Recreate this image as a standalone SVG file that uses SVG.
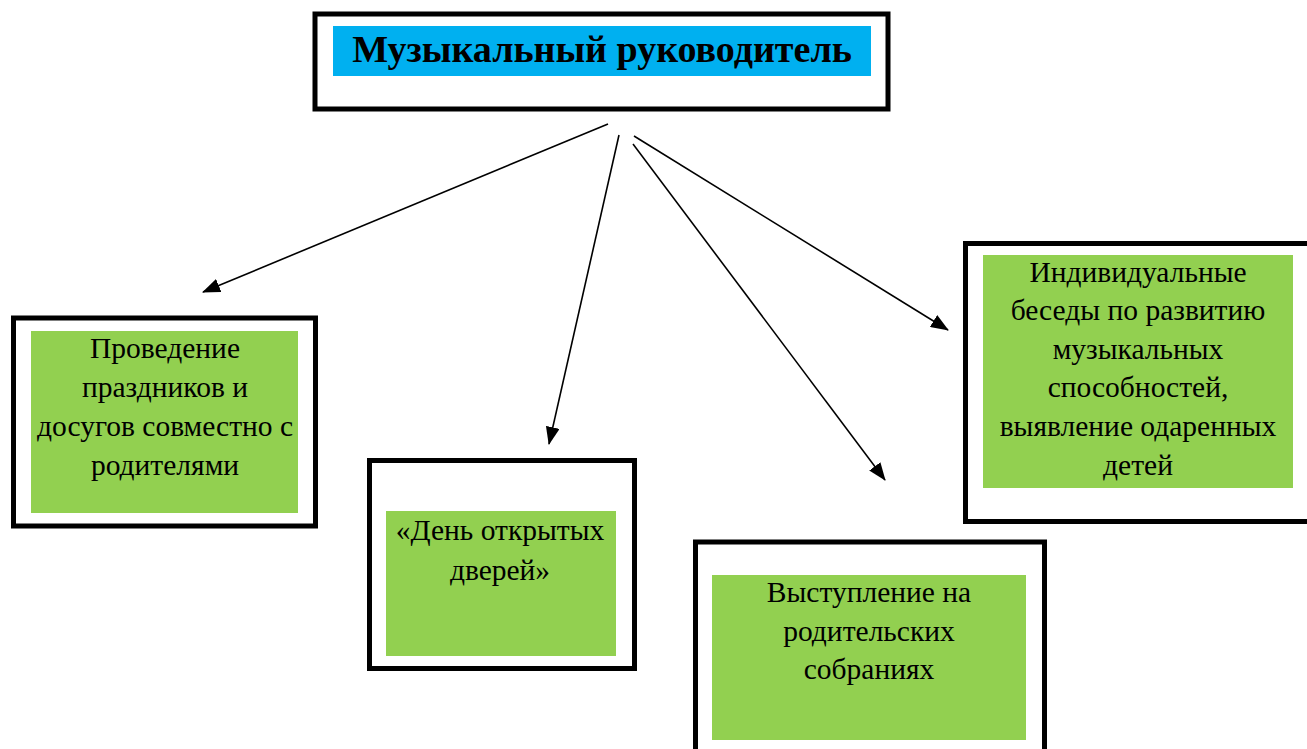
<svg xmlns="http://www.w3.org/2000/svg" width="1307" height="749" viewBox="0 0 1307 749">
<style>
.frame{fill:#fff;stroke:#000;stroke-width:5}
.green{fill:#92d050}
.blue{fill:#00b0f0}
.t{font-family:"Liberation Serif","Times New Roman",serif;font-size:29.5px;fill:#000;text-anchor:middle}
.title{font-family:"Liberation Serif","Times New Roman",serif;font-size:38px;font-weight:bold;fill:#000;text-anchor:middle}
.conn{stroke:#000;stroke-width:1.6;fill:none}
</style>
<defs>
<marker id="ah" markerWidth="18" markerHeight="14" refX="17" refY="7" orient="auto" markerUnits="userSpaceOnUse">
<path d="M0,0 L18,7 L0,14 Z" fill="#000"/>
</marker>
</defs>
<rect width="1307" height="749" fill="#fff"/>
<g id="connectors">
<line class="conn" x1="608" y1="124" x2="203" y2="292" marker-end="url(#ah)"/>
<line class="conn" x1="619" y1="135" x2="549" y2="444" marker-end="url(#ah)"/>
<line class="conn" x1="633" y1="144" x2="885" y2="480" marker-end="url(#ah)"/>
<line class="conn" x1="634" y1="136" x2="948" y2="330" marker-end="url(#ah)"/>
</g>
<g id="node-top">
<rect class="frame" x="315" y="14" width="573" height="95"/>
<rect class="blue" x="333" y="26" width="538" height="50"/>
<text class="title" x="602" y="62">Музыкальный руководитель</text>
</g>
<g id="node-holidays">
<rect class="frame" x="13.5" y="318" width="302" height="208"/>
<rect class="green" x="31" y="331" width="267" height="182"/>
<text class="t" x="165" y="358">Проведение</text>
<text class="t" x="165" y="397">праздников и</text>
<text class="t" x="165" y="436">досугов совместно с</text>
<text class="t" x="165" y="475">родителями</text>
</g>
<g id="node-openday">
<rect class="frame" x="369.5" y="460.5" width="265" height="208"/>
<rect class="green" x="386" y="511" width="230" height="145"/>
<text class="t" x="500" y="540">«День открытых</text>
<text class="t" x="500" y="580">дверей»</text>
</g>
<g id="node-meetings">
<rect class="frame" x="695.5" y="542" width="349" height="220"/>
<rect class="green" x="712" y="575" width="314" height="165"/>
<text class="t" x="869" y="602">Выступление на</text>
<text class="t" x="869" y="641">родительских</text>
<text class="t" x="869" y="679">собраниях</text>
</g>
<g id="node-individual">
<rect class="frame" x="965.5" y="243.5" width="350" height="278"/>
<rect class="green" x="983" y="255" width="310" height="233"/>
<text class="t" x="1138" y="282">Индивидуальные</text>
<text class="t" x="1138" y="320">беседы по развитию</text>
<text class="t" x="1138" y="359">музыкальных</text>
<text class="t" x="1138" y="397">способностей,</text>
<text class="t" x="1138" y="436">выявление одаренных</text>
<text class="t" x="1138" y="475">детей</text>
</g>
</svg>
